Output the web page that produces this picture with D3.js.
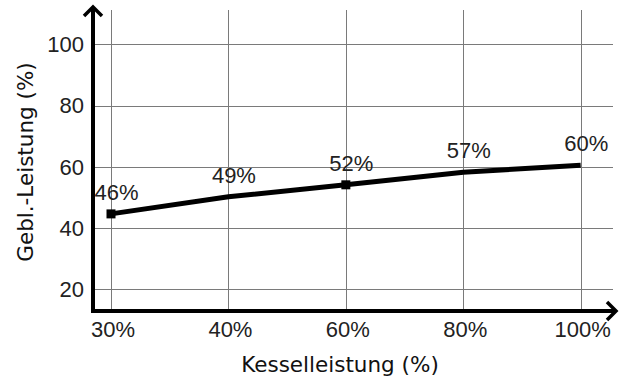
<!DOCTYPE html>
<html>
<head>
<meta charset="utf-8">
<script src="https://cdn.jsdelivr.net/npm/d3@7"></script>
<style>
  body { margin: 0; background: #fff; }
</style>
</head>
<body>
<div id="chart"></div>
<script>
//************* data ***************/
var categories = ["30%", "40%", "60%", "80%", "100%"];
var values = [44.6, 50.2, 54.1, 58.2, 60.5];
var pointLabels = ["46%", "49%", "52%", "57%", "60%"];
var markerCats = ["30%", "60%"];
var yTicks = [20, 40, 60, 80, 100];

//************* dimensions ***************/
var W = 623, H = 378;
var axisX = 93, axisY = 311;

var svg = d3.select("#chart")
  .append("svg")
    .attr("width", W)
    .attr("height", H);

//************* scales ***************/
var x = d3.scalePoint()
  .domain(categories)
  .range([111, 580.7]);

var y = d3.scaleLinear()
  .domain([20, 100])
  .range([289.2, 44.3]);

//************* grid ***************/
svg.append("g")
  .selectAll("line")
  .data(yTicks)
  .enter().append("line")
    .attr("x1", axisX)
    .attr("x2", 613)
    .attr("y1", d => Math.round(y(d)) + 0.5)
    .attr("y2", d => Math.round(y(d)) + 0.5)
    .attr("stroke", "#7a7a7a")
    .attr("stroke-width", 1);

svg.append("g")
  .selectAll("line")
  .data(categories)
  .enter().append("line")
    .attr("x1", d => Math.round(x(d)) + 0.5)
    .attr("x2", d => Math.round(x(d)) + 0.5)
    .attr("y1", 10)
    .attr("y2", axisY)
    .attr("stroke", "#7a7a7a")
    .attr("stroke-width", 1);

//************* axes with arrows ***************/
var axes = svg.append("g")
  .attr("stroke", "#000")
  .attr("stroke-width", 4)
  .attr("fill", "none");

axes.append("path")
  .attr("d", "M" + axisX + "," + (axisY + 2) + "V9");
axes.append("path")
  .attr("d", "M" + (axisX - 2) + "," + axisY + "H614");
// arrow heads
axes.append("path")
  .attr("stroke-width", 3.5)
  .attr("stroke-linejoin", "miter")
  .attr("d", "M" + (axisX - 9) + ",16L" + axisX + ",7L" + (axisX + 9) + ",16");
axes.append("path")
  .attr("stroke-width", 3.5)
  .attr("stroke-linejoin", "miter")
  .attr("d", "M607," + (axisY - 9) + "L616," + axisY + "L607," + (axisY + 9));

//************* tick labels ***************/
var tickFont = "'Liberation Sans', Arial, sans-serif";

svg.append("g")
  .selectAll("text")
  .data(yTicks)
  .enter().append("text")
    .attr("x", 84)
    .attr("y", d => y(d))
    .attr("dy", "0.36em")
    .attr("text-anchor", "end")
    .attr("font-family", tickFont)
    .attr("font-size", "22px")
    .attr("fill", "#222")
    .text(d => d);

svg.append("g")
  .selectAll("text")
  .data(categories)
  .enter().append("text")
    .attr("x", d => x(d) + 2)
    .attr("y", 337)
    .attr("text-anchor", "middle")
    .attr("font-family", tickFont)
    .attr("font-size", "22px")
    .attr("fill", "#222")
    .text(d => d);

//************* axis titles ***************/
var titleFont = "'DejaVu Sans', Verdana, sans-serif";

svg.append("text")
  .attr("x", 340)
  .attr("y", 372)
  .attr("text-anchor", "middle")
  .attr("font-family", titleFont)
  .attr("font-size", "21.5px")
  .attr("fill", "#111")
  .text("Kesselleistung (%)");

svg.append("text")
  .attr("transform", "translate(33,162) rotate(-90)")
  .attr("text-anchor", "middle")
  .attr("font-family", titleFont)
  .attr("font-size", "21.5px")
  .attr("fill", "#111")
  .text("Gebl.-Leistung (%)");

//************* line ***************/
var line = d3.line()
  .x((d, i) => x(categories[i]))
  .y(d => y(d));

svg.append("path")
  .datum(values)
  .attr("d", line)
  .attr("fill", "none")
  .attr("stroke", "#000")
  .attr("stroke-width", 5)
  .attr("stroke-linejoin", "round");

// square markers
svg.append("g")
  .selectAll("rect")
  .data(markerCats)
  .enter().append("rect")
    .attr("x", d => x(d) - 4.5)
    .attr("y", d => y(values[categories.indexOf(d)]) - 4.5)
    .attr("width", 9)
    .attr("height", 9)
    .attr("fill", "#000");

// point labels
svg.append("g")
  .selectAll("text")
  .data(pointLabels)
  .enter().append("text")
    .attr("x", (d, i) => x(categories[i]) + 5.5)
    .attr("y", (d, i) => y(values[i]) - 14)
    .attr("text-anchor", "middle")
    .attr("font-family", tickFont)
    .attr("font-size", "22px")
    .attr("fill", "#222")
    .text(d => d);
</script>
</body>
</html>
